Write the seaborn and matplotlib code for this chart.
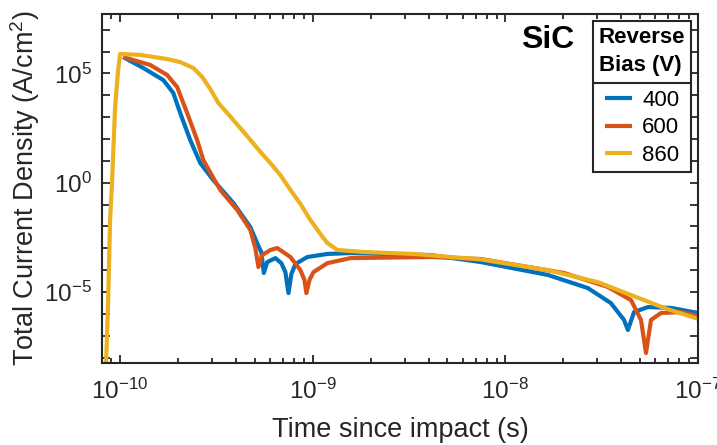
import numpy as np
import pandas as pd
import matplotlib
matplotlib.use("Agg")
import matplotlib.pyplot as plt
import seaborn as sns
from matplotlib.ticker import FixedLocator, FuncFormatter, LogLocator, NullLocator, NullFormatter
from matplotlib.lines import Line2D

# ---- data: log10 of time (s) and log10 of current density (A/cm^2) ----
bias_labels = ["400", "600", "860"]

log_t_400 = [-9.984, -9.880, -9.776, -9.724, -9.688, -9.636, -9.584, -9.516, -9.412, -9.324,
             -9.282, -9.267, -9.254, -9.236, -9.194, -9.163, -9.142, -9.126, -9.111, -9.090,
             -9.028, -8.924, -8.804, -8.388, -8.128, -7.780, -7.572, -7.452, -7.384, -7.364,
             -7.332, -7.260, -7.140, -7.000]
log_j_400 = [5.75, 5.25, 4.70, 4.11, 3.19, 1.95, 0.90, 0.12, -0.93, -2.03,
             -2.90, -3.17, -4.13, -3.63, -3.45, -3.68, -4.09, -5.05, -4.18, -3.72,
             -3.40, -3.26, -3.22, -3.31, -3.63, -4.22, -4.82, -5.51, -6.28, -6.74,
             -5.92, -5.69, -5.73, -5.96]

log_t_600 = [-9.984, -9.844, -9.756, -9.704, -9.652, -9.600, -9.568, -9.516, -9.480, -9.392,
             -9.324, -9.298, -9.282, -9.262, -9.220, -9.184, -9.116, -9.064, -9.043, -9.033,
             -9.017, -8.996, -8.924, -8.804, -8.388, -8.128, -7.696, -7.468, -7.348, -7.296,
             -7.270, -7.244, -7.192, -7.088, -7.000]
log_j_600 = [5.75, 5.39, 4.93, 4.38, 3.19, 1.95, 1.04, 0.22, -0.33, -1.25,
             -2.16, -2.99, -3.86, -3.31, -3.08, -2.99, -3.40, -4.00, -4.45, -5.05,
             -4.45, -4.09, -3.68, -3.45, -3.40, -3.49, -4.13, -4.77, -5.37, -6.28,
             -7.79, -6.28, -5.96, -5.92, -6.10]

log_t_860 = [-10.073, -10.062, -10.052, -10.043, -10.026, -10.010, -10.000, -9.896, -9.756, -9.688,
             -9.620, -9.574, -9.532, -9.490, -9.444, -9.376, -9.324, -9.272, -9.220, -9.168,
             -9.116, -9.064, -9.012, -8.960, -8.924, -8.872, -8.736, -8.476, -8.128, -7.780,
             -7.520, -7.348, -7.176, -7.000]
log_j_860 = [-8.34, -5.37, -1.71, -0.20, 3.46, 5.16, 5.89, 5.85, 5.66, 5.52,
             5.25, 4.84, 4.29, 3.65, 3.19, 2.50, 1.96, 1.41, 0.90, 0.35,
             -0.33, -0.97, -1.71, -2.35, -2.76, -3.08, -3.17, -3.26, -3.51, -4.00,
             -4.55, -5.14, -5.73, -6.23]

x_tick_exps = [-10, -9, -8, -7]
y_tick_exps = list(range(-8, 8))
y_label_exps = [-5, 0, 5]

colors = ["#0072BD", "#D95319", "#EDB120"]

frames = []
for lab, lt, lj in zip(bias_labels,
                       [log_t_400, log_t_600, log_t_860],
                       [log_j_400, log_j_600, log_j_860]):
    frames.append(pd.DataFrame({"t": 10.0 ** np.array(lt),
                                "J": 10.0 ** np.array(lj),
                                "bias": lab}))
df = pd.concat(frames, ignore_index=True)

# ---- style ----
sns.set_style("ticks")
plt.rcParams.update({
    "font.family": ["Liberation Sans", "DejaVu Sans"],
    "mathtext.fontset": "custom",
    "mathtext.rm": "Liberation Sans",
    "mathtext.it": "Liberation Sans:italic",
    "mathtext.bf": "Liberation Sans:bold",
    "mathtext.default": "regular",
    "axes.edgecolor": "#262626",
    "axes.linewidth": 1.5,
    "text.color": "#262626",
    "axes.labelcolor": "#262626",
    "xtick.color": "#262626",
    "ytick.color": "#262626",
})

fig = plt.figure(figsize=(7.17, 4.45), dpi=100)
ax = fig.add_axes([102 / 717, 82 / 445, 596 / 717, 349 / 445])

sns.lineplot(data=df, x="t", y="J", hue="bias", hue_order=bias_labels,
             palette=colors, estimator=None, sort=False, lw=3,
             ax=ax, legend="full")
for ln in ax.get_lines():
    ln.set_solid_joinstyle("round")
    ln.set_solid_capstyle("butt")

ax.set_xscale("log")
ax.set_yscale("log")
ax.set_xlim(10 ** -10.094, 1e-7)
ax.set_ylim(10 ** -8.25, 10 ** 7.72)

# x ticks: labelled decades plus minor sub-decade ticks
ax.xaxis.set_major_locator(FixedLocator([10.0 ** e for e in x_tick_exps]))
ax.xaxis.set_major_formatter(FuncFormatter(lambda v, p: r"$10^{%d}$" % round(np.log10(v))))
ax.xaxis.set_minor_locator(LogLocator(base=10, subs=np.arange(2, 10), numticks=20))
ax.xaxis.set_minor_formatter(NullFormatter())

# y ticks: one per decade, labelled every fifth decade
ax.yaxis.set_major_locator(FixedLocator([10.0 ** e for e in y_tick_exps]))


def ylab(v, p):
    e = int(round(np.log10(v)))
    return r"$10^{%d}$" % e if e in y_label_exps else ""


ax.yaxis.set_major_formatter(FuncFormatter(ylab))
ax.yaxis.set_minor_locator(NullLocator())

ax.tick_params(which="both", direction="in", top=True, right=True, width=1.3,
               labelsize=17.5)
ax.tick_params(which="major", length=6)
ax.tick_params(which="minor", length=3.5)
ax.tick_params(axis="x", pad=11)
ax.tick_params(axis="y", pad=7)

ax.set_xlabel("Time since impact (s)", fontsize=19.5)
ax.set_ylabel("Total Current Density (A/cm$^2$)", fontsize=19.5)
ax.xaxis.set_label_coords(0.5, -0.155)
ax.yaxis.set_label_coords(-0.1, 0.5)

ax.text(0.748, 0.925, "SiC", transform=ax.transAxes, ha="center", va="center",
        fontsize=23, fontweight="bold", color="black")

handles, labels = ax.get_legend_handles_labels()
leg = ax.legend(handles, labels, title="Reverse\nBias (V)", loc="upper right",
                bbox_to_anchor=(0.988, 0.980), borderaxespad=0, fontsize=16,
                title_fontproperties={"weight": "bold", "size": 16},
                frameon=True, fancybox=False, framealpha=1, edgecolor="#262626",
                handlelength=1.25, handletextpad=0.45, labelspacing=0.3,
                borderpad=0.25)
leg.get_frame().set_linewidth(1.5)
for t in leg.get_texts():
    t.set_color("black")
leg.get_title().set_color("black")
leg.get_title().set_linespacing(1.45)
leg._legend_box.sep = 10

# horizontal rule between the legend title and its entries
fig.canvas.draw()
r = fig.canvas.get_renderer()
fb = leg.get_frame().get_window_extent(r)
tb = leg.get_title().get_window_extent(r)
eb = leg.get_texts()[0].get_window_extent(r)
ysep = 0.5 * (tb.y0 + eb.y1)
inv = fig.transFigure.inverted()
(x0f, yf), (x1f, _) = inv.transform([(fb.x0, ysep), (fb.x1, ysep)])
fig.add_artist(Line2D([x0f, x1f], [yf, yf], transform=fig.transFigure,
                      color="#262626", lw=1.5))

fig.savefig("out.png", dpi=100, facecolor="white")
